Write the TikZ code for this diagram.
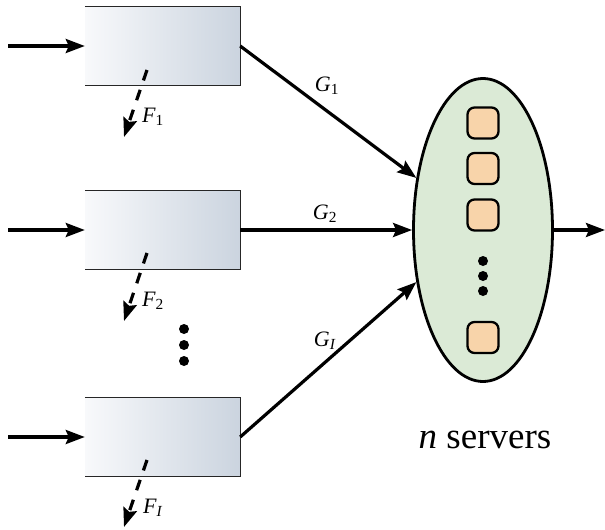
\documentclass[tikz,border=0pt]{standalone}
\usepackage{fontspec}
\setmainfont{Liberation Serif}
\usetikzlibrary{shapes.geometric,arrows.meta}
\definecolor{boxL}{RGB}{248,249,251}
\definecolor{boxR}{RGB}{203,212,223}
\definecolor{ellfill}{RGB}{219,234,214}
\definecolor{srvfill}{RGB}{248,212,170}
\newcommand{\lbl}[2]{\textit{#1}\textsubscript{#2}}
\tikzset{
  queuebox/.style={rectangle, minimum width=155pt, minimum height=78pt, inner sep=0pt, left color=boxL, right color=boxR, draw=none},
  boxedge/.style={line width=1.3pt, draw=black!85},
  flow/.style={line width=3.2pt, -{Stealth[length=19pt,width=14pt,inset=3pt]}},
  drop/.style={line width=3.2pt, dash pattern=on 11pt off 10pt, -{Stealth[length=19pt,width=14pt,inset=3pt]}},
  pool/.style={ellipse, minimum width=139pt, minimum height=303pt, inner sep=0pt, fill=ellfill, draw=black, line width=2.8pt},
  server/.style={rectangle, rounded corners=7pt, minimum width=31pt, minimum height=31pt, inner sep=0pt, fill=srvfill, draw=black, line width=2.3pt},
  lab/.style={font=\fontsize{22pt}{24pt}\selectfont, inner sep=0pt},
  dotc/.style={circle, fill=black, inner sep=0pt, minimum size=10pt}
}
\begin{document}
\begin{tikzpicture}[x=1pt,y=-1pt]
\useasboundingbox (0,0) rectangle (605,530);
% queues
\node[queuebox] (b1) at (162.5,46) {};
\node[queuebox] (b2) at (162.5,230) {};
\node[queuebox] (b3) at (162.5,437) {};
\foreach \b in {b1,b2,b3}{
  \draw[boxedge] (\b.north west) -- (\b.north east) -- (\b.south east) -- (\b.south west);
}
% server pool
\node[pool] (ell) at (483,230) {};
\node[server] (s1) at (483,123) {};
\node[server] (s2) at (483,168.5) {};
\node[server] (s3) at (483,215) {};
\node[server] (s4) at (483,337.5) {};
\node[dotc] (d1) at (483,261) {};
\node[dotc] (d2) at (483,276) {};
\node[dotc] (d3) at (483,291) {};
% dots between queues
\node[dotc] (q1) at (184,329) {};
\node[dotc] (q2) at (184,345) {};
\node[dotc] (q3) at (184,361) {};
% input arrows
\coordinate (in1) at (8,46);
\coordinate (in2) at (8,230);
\coordinate (in3) at (8,437);
\draw[flow] (in1) -- (b1.west);
\draw[flow] (in2) -- (b2.west);
\draw[flow] (in3) -- (b3.west);
% abandonment arrows
\coordinate (f1s) at (147,70);  \coordinate (f1e) at (124,137);
\coordinate (f2s) at (147,253); \coordinate (f2e) at (124,321);
\coordinate (f3s) at (147,460); \coordinate (f3e) at (124,527);
\draw[drop] (f1s) -- (f1e);
\draw[drop] (f2s) -- (f2e);
\draw[drop] (f3s) -- (f3e);
\node[lab] (F1) at (153,117) {\lbl{F}{1}};
\node[lab] (F2) at (153,301) {\lbl{F}{2}};
\node[lab] (F3) at (153,508) {\lbl{F}{\textit{I}}};
% routing arrows
\draw[flow] (b1.east) -- (ell.142);
\draw[flow] (b2.east) -- (ell.west);
\draw[flow] (b3.east) -- (ell.218);
\node[lab] (G1) at (327,86) {\lbl{G}{1}};
\node[lab] (G2) at (325,214) {\lbl{G}{2}};
\node[lab] (G3) at (325,341) {\lbl{G}{\textit{I}}};
% output
\coordinate (out) at (605,230);
\draw[flow] (ell.east) -- (out);
% caption
\node[font=\fontsize{37pt}{42pt}\selectfont, inner sep=0pt] (cap) at (485,440) {\textit{n} servers};
\end{tikzpicture}
\end{document}
